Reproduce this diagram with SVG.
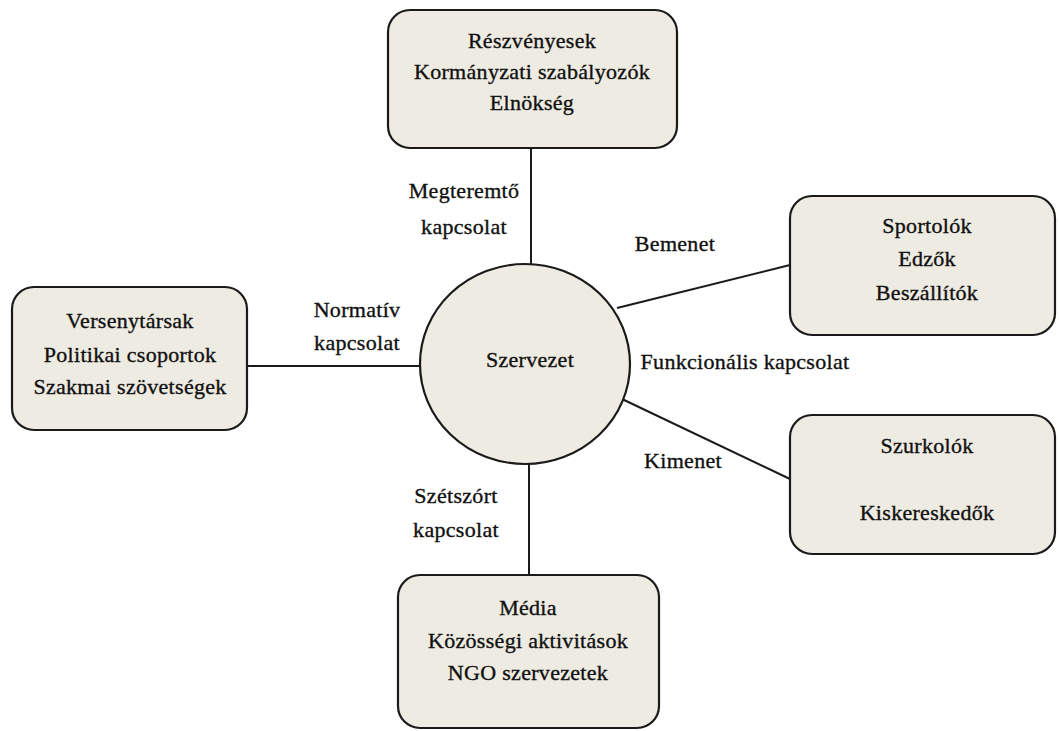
<svg xmlns="http://www.w3.org/2000/svg" width="1059" height="731" viewBox="0 0 1059 731">
<style>
.box{fill:#eeebe2;stroke:#1a1a1a;stroke-width:2.2}
.ln{stroke:#1a1a1a;stroke-width:2;fill:none}
text{font-family:"Liberation Serif","Times New Roman",serif;font-size:22px;fill:#111;stroke:#111;stroke-width:0.35;text-anchor:middle;letter-spacing:0.3px}
</style>
<rect width="1059" height="731" fill="#ffffff"/>
<g id="connectors">
<line class="ln" x1="531" y1="148" x2="531" y2="264"/>
<line class="ln" x1="247" y1="366" x2="420" y2="366"/>
<line class="ln" x1="529" y1="463" x2="529" y2="575"/>
<line class="ln" x1="617" y1="308" x2="790" y2="265"/>
<line class="ln" x1="622" y1="399" x2="790" y2="479"/>
</g>
<g id="labels">
<text x="464" y="198">Megteremtő</text>
<text x="464" y="234">kapcsolat</text>
<text x="357" y="317">Normatív</text>
<text x="357" y="350">kapcsolat</text>
<text x="675" y="251">Bemenet</text>
<text x="745" y="369">Funkcionális kapcsolat</text>
<text x="683" y="468">Kimenet</text>
<text x="456" y="503">Szétszórt</text>
<text x="456" y="537">kapcsolat</text>
</g>
<g id="szervezet">
<ellipse class="box" cx="525" cy="364" rx="105" ry="100"/>
<text x="530" y="367">Szervezet</text>
</g>
<g id="top">
<rect class="box" x="388" y="10" width="289" height="138" rx="22"/>
<text x="532" y="48">Részvényesek</text>
<text x="532" y="79">Kormányzati szabályozók</text>
<text x="532" y="110">Elnökség</text>
</g>
<g id="left">
<rect class="box" x="12" y="287" width="235" height="143" rx="22"/>
<text x="130" y="328">Versenytársak</text>
<text x="130" y="362">Politikai csoportok</text>
<text x="130" y="394">Szakmai szövetségek</text>
</g>
<g id="right-top">
<rect class="box" x="790" y="196" width="265" height="139" rx="22"/>
<text x="927" y="233">Sportolók</text>
<text x="927" y="266">Edzők</text>
<text x="927" y="300">Beszállítók</text>
</g>
<g id="right-bottom">
<rect class="box" x="790" y="415" width="265" height="139" rx="22"/>
<text x="927" y="453">Szurkolók</text>
<text x="927" y="520">Kiskereskedők</text>
</g>
<g id="bottom">
<rect class="box" x="398" y="575" width="261" height="153" rx="22"/>
<text x="528" y="615">Média</text>
<text x="528" y="648">Közösségi aktivitások</text>
<text x="528" y="680">NGO szervezetek</text>
</g>
</svg>
